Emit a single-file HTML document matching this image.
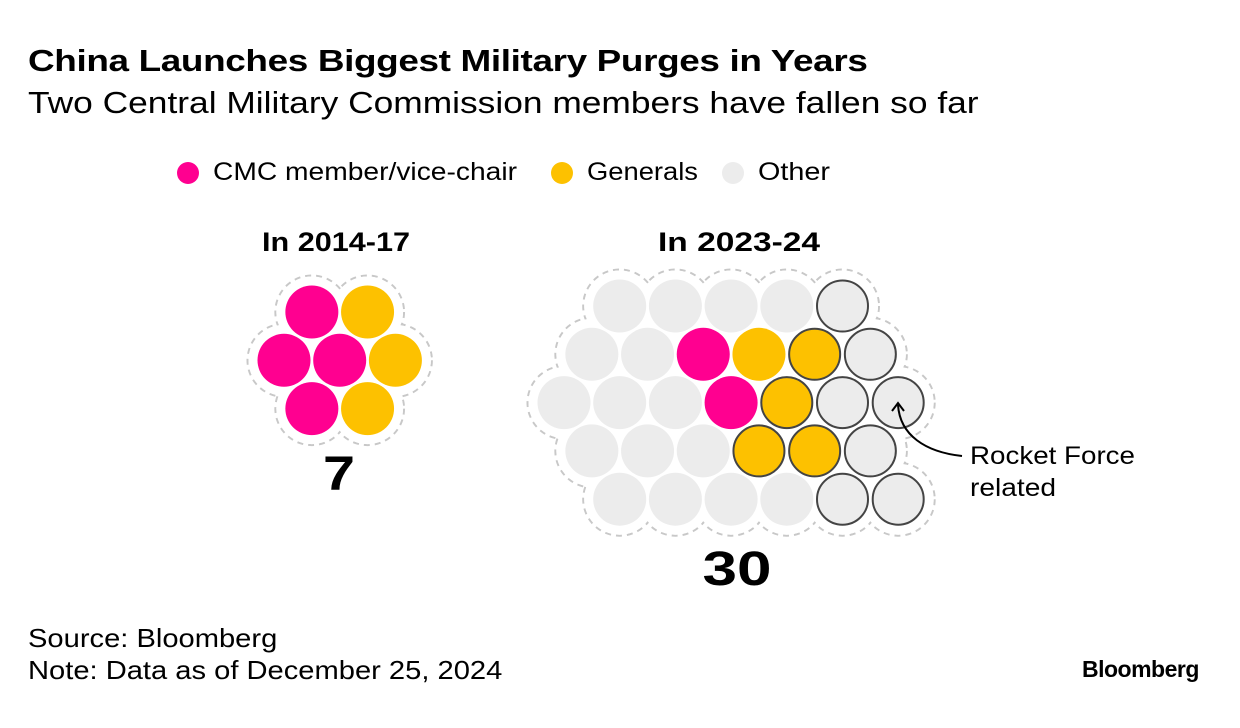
<!DOCTYPE html>
<html><head><meta charset="utf-8"><style>
body{margin:0;background:#fff;font-family:"Liberation Sans",sans-serif;}
#w{position:relative;width:1240px;height:728px;overflow:hidden;}
.t{position:absolute;white-space:nowrap;color:#000;transform-origin:0 0;}
</style></head><body>
<div id="w">
<div class="t" style="left:28px;top:43px;font-size:31px;font-weight:bold;letter-spacing:-0.3px;transform:scaleX(1.19)">China Launches Biggest Military Purges in Years</div>
<div class="t" style="left:28px;top:85px;font-size:31px;transform:scaleX(1.14)">Two Central Military Commission members have fallen so far</div>
<svg id="s" width="1240" height="728" style="position:absolute;left:0;top:0"></svg>
<div class="t" style="left:28px;top:623px;font-size:26px;transform:scaleX(1.12)">Source: Bloomberg</div>
<div class="t" style="left:28px;top:655px;font-size:26px;transform:scaleX(1.12)">Note: Data as of December 25, 2024</div>
<div class="t" style="left:1082px;top:656px;font-size:23px;font-weight:bold;letter-spacing:-0.5px">Bloomberg</div>
</div>
<script>
const NS="http://www.w3.org/2000/svg";
const svg=document.getElementById('s');
const colors={cmc:"#ff0090",gen:"#fdc100",other:"#ececec"};
const legendLabels=["CMC member/vice-chair","Generals","Other"];
const legendKeys=["cmc","gen","other"];
const legendX=[188,562,733];
const legendW=[304,111,72];
// cluster 1 (2014-17)
const c1Rows=[["cmc","gen"],["cmc","cmc","gen"],["cmc","gen"]];
const c1Rocket=[[0,0],[0,0,0],[0,0]];
const c1Start=[1,0,1]; // half-step offsets
// cluster 2 (2023-24)
const c2Rows=[
 ["other","other","other","other","other"],
 ["other","other","cmc","gen","gen","other"],
 ["other","other","other","cmc","gen","other","other"],
 ["other","other","other","gen","gen","other"],
 ["other","other","other","other","other","other"]];
const c2Rocket=[
 [0,0,0,0,1],[0,0,0,0,1,1],[0,0,0,0,1,1,1],[0,0,0,1,1,1],[0,0,0,0,1,1]];
const c2Start=[2,1,0,1,2];
const totals=["7","30"];
const periods=["In 2014-17","In 2023-24"];
function el(t,a,name){const e=document.createElementNS(NS,t);for(const k in a)e.setAttribute(k,a[k]);


svg.appendChild(e);return e;}
function txt(x,y,s,size,w,anchor,name,len){const a={x:x,y:y,'font-size':size,'font-weight':w,'text-anchor':anchor,'font-family':'Liberation Sans, sans-serif',fill:'#000'};
if(len){a.textLength=len;a.lengthAdjust='spacingAndGlyphs';}
const e=el('text',a,name);e.textContent=s;return e;}
legendKeys.forEach((k,i)=>{el('circle',{cx:legendX[i],cy:173,r:11,fill:colors[k]},'legend-dot-'+k);
txt(legendX[i]+25,180,legendLabels[i],25,'normal','start','legend-label-'+k,legendW[i]);});
const DX=55.7,DY=48.3,R=26.5;
function cluster(rows,rocket,start,x0,y0,name){
 const pts=[];
 rows.forEach((row,ri)=>{row.forEach((c,j)=>{
  pts.push({x:x0+(start[ri]/2+j)*DX,y:y0+ri*DY,c:c,rk:rocket[ri][j]});});});
 pts.forEach(p=>el('circle',{cx:p.x,cy:p.y,r:R+10,fill:'none',stroke:'#c8c8c8','stroke-width':2,'stroke-dasharray':'6 5'},name+'-outline'));
 pts.forEach(p=>el('circle',{cx:p.x,cy:p.y,r:R+9,fill:'#fff'},name+'-outline-fill'));
 pts.forEach(p=>el('circle',{cx:p.x,cy:p.y,r:p.rk?R-1:R,fill:colors[p.c],stroke:p.rk?'#444':'none','stroke-width':2},name+'-'+p.c+'-circle'));
}
cluster(c1Rows,c1Rocket,c1Start,284,312,'cluster-2014');
cluster(c2Rows,c2Rocket,c2Start,564,306,'cluster-2023');
txt(336,251,periods[0],27,'bold','middle','period-label-2014',148);
txt(739,251,periods[1],27,'bold','middle','period-label-2023',162);
txt(339,490,totals[0],48,'bold','middle','total-2014',32);
txt(737,585,totals[1],48,'bold','middle','total-2023',69);
el('path',{d:'M962,456 C925,452 900,435 898,405',fill:'none',stroke:'#000','stroke-width':2},'annotation-arrow');
el('path',{d:'M892,411 L898,403 L904,411',fill:'none',stroke:'#000','stroke-width':2},'annotation-arrowhead');
txt(970,464,'Rocket Force',25,'normal','start','annotation-text-1',165);
txt(970,496,'related',25,'normal','start','annotation-text-2',86);
</script>
</body></html>
